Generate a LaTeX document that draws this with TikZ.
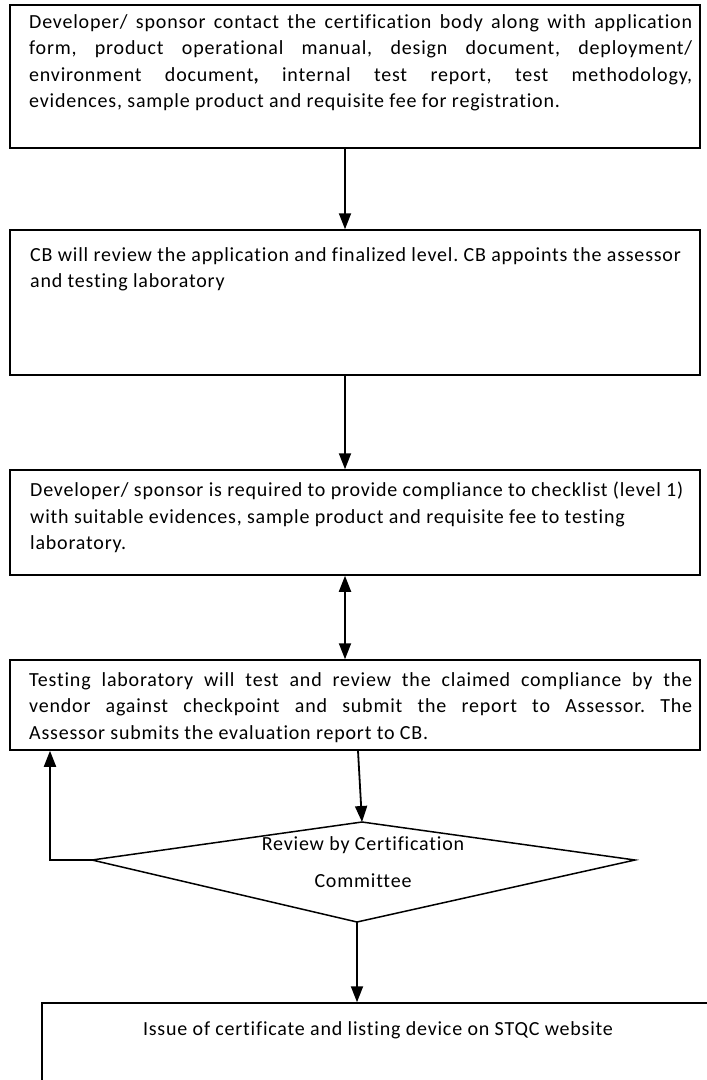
\documentclass[tikz,border=0pt]{standalone}
\usepackage{fontspec}
\setmainfont{Carlito}[LetterSpace=4,Ligatures=NoCommon]
\usetikzlibrary{arrows.meta,calc}
\begin{document}
\frenchspacing
\begin{tikzpicture}[x=1pt,y=-1pt,
  box/.style={draw,line width=1.5pt,rectangle,inner sep=0pt,minimum width=690pt},
  txt/.style={inner sep=0pt,anchor=north west,font=\fontsize{20}{26.5}\selectfont},
  jtxt/.style={txt,text width=663pt,align=justify},
  ltxt/.style={txt,align=left},
  ctxt/.style={inner sep=0pt,align=center,font=\fontsize{20}{26.5}\selectfont},
  tip/.tip={Triangle[width=12pt,length=16pt]},
  arr/.style={line width=1.8pt,-tip},
  darr/.style={line width=1.8pt,tip-tip},
  edge/.style={line width=1.5pt}]
\useasboundingbox (0,0) rectangle (707,1080);
\clip (0,0) rectangle (707,1080);
\fill[white] (0,0) rectangle (707,1080);
% boxes
\node[box,minimum height=143pt] (b1) at (355,76.5) {};
\node[box,minimum height=145pt] (b2) at (355,302.5) {};
\node[box,minimum height=105pt] (b3) at (355,522.5) {};
\node[box,minimum height=90pt] (b4) at (355,705) {};
\node[box,minimum width=780pt,minimum height=120pt] (b5) at (432,1063) {};
% texts
\node[jtxt] (t1) at (29,14) {Developer/ sponsor contact the certification body along with application\linebreak form, product operational manual, design document, deployment/\linebreak environment document{\bfseries ,} internal test report, test methodology,\linebreak evidences, sample product and requisite fee for registration.};
\node[ltxt] (t2) at (30,247) {CB will review the application and finalized level. CB appoints the assessor\\ and testing laboratory};
\node[ltxt] (t3) at (30,482) {Developer/ sponsor is required to provide compliance to checklist (level 1)\\ with suitable evidences, sample product and requisite fee to testing\\ laboratory.};
\node[jtxt] (t4) at (29,672) {Testing laboratory will test and review the claimed compliance by the\linebreak vendor against checkpoint and submit the report to Assessor. The\linebreak Assessor submits the evaluation report to CB.};
% diamond
\coordinate (dt) at (362,822);
\coordinate (dl) at (92,860);
\coordinate (dr) at (635,860);
\coordinate (db) at (357,922);
\draw[edge,line join=miter] (dt) -- (dr) -- (db) -- (dl) -- cycle;
\node[ctxt] (dtext) at (363,862) {Review by Certification\\[10pt] Committee};
\node[ctxt] (t5) at (378,1030) {Issue of certificate and listing device on STQC website};
% connectors
\coordinate (ax) at (345,0);
\coordinate (lx) at (50,0);
\draw[arr] (b1.south -| ax) -- (b2.north -| ax);
\draw[arr] (b2.south -| ax) -- (b3.north -| ax);
\draw[darr] (b3.south -| ax) -- (b4.north -| ax);
\draw[arr] ($(b4.south)+(3,0)$) -- (dt);
\draw[arr] (dl) -- (dl -| lx) -- (b4.south -| lx);
\draw[arr] (db) -- (b5.north -| db);
\end{tikzpicture}
\end{document}
